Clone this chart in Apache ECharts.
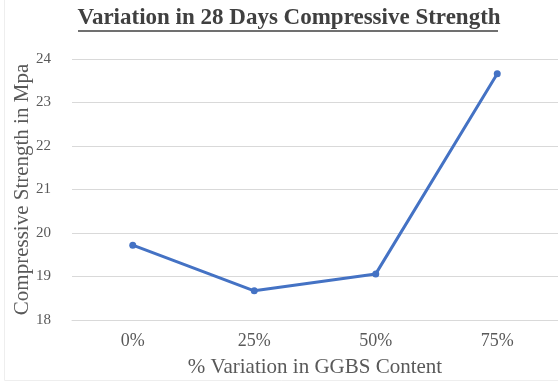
<!DOCTYPE html>
<html>
<head>
<meta charset="utf-8">
<script src="https://cdn.jsdelivr.net/npm/echarts@6/dist/echarts.min.js"></script>
<style>
  html, body { margin: 0; padding: 0; background: #fff; }
  #main { width: 558px; height: 383px; }
</style>
</head>
<body>
<div id="main"></div>
<script>
// data
var categories = ['0%', '25%', '50%', '75%'];
var strength = [19.72, 18.67, 19.06, 23.66];
var yTicks = [18, 19, 20, 21, 22, 23, 24];

var serif = '"Liberation Serif", "DejaVu Serif", serif';

var myChart = echarts.init(document.getElementById('main'));

var option = {
    backgroundColor: '#fff',
    title: {
        text: 'Variation in 28 Days Compressive Strength',
        left: 284,
        textAlign: 'center',
        top: 2,
        textStyle: {
            fontFamily: serif,
            fontSize: 23,
            fontWeight: 'bold',
            color: '#404040'
        }
    },
    graphic: [
        // underline below the title
        {
            type: 'line',
            shape: { x1: 78, y1: 31, x2: 498, y2: 31 },
            style: { stroke: '#404040', lineWidth: 1.5 }
        },
        // faint chart-area border
        {
            type: 'rect',
            shape: { x: 4.5, y: -2, width: 560, height: 382.5 },
            style: { fill: null, stroke: '#eeeeee', lineWidth: 1 },
            silent: true
        }
    ],
    grid: {
        left: 72,
        right: -4,
        top: 59,
        bottom: 63
    },
    xAxis: {
        type: 'category',
        data: categories,
        boundaryGap: true,
        name: '% Variation in GGBS Content',
        nameLocation: 'middle',
        nameGap: 37,
        nameTextStyle: { fontFamily: serif, fontSize: 21, color: '#595959' },
        axisLine: { lineStyle: { color: '#d9d9d9' } },
        axisTick: { show: false },
        axisLabel: { fontFamily: serif, fontSize: 18, color: '#595959', margin: 12 }
    },
    yAxis: {
        type: 'value',
        min: yTicks[0],
        max: yTicks[yTicks.length - 1],
        interval: 1,
        name: 'Compressive Strength in Mpa',
        nameLocation: 'middle',
        nameGap: 39,
        nameMoveOverlap: false,
        nameTextStyle: { fontFamily: serif, fontSize: 21, color: '#595959' },
        axisLine: { show: false },
        axisTick: { show: false },
        axisLabel: { fontFamily: serif, fontSize: 15, color: '#595959', margin: 21 },
        splitLine: { lineStyle: { color: '#d9d9d9', width: 1 } }
    },
    series: [{
        type: 'line',
        data: strength,
        symbol: 'circle',
        symbolSize: 7,
        lineStyle: { color: '#4472c4', width: 3 },
        itemStyle: { color: '#4472c4' },
        animation: false
    }]
};

myChart.setOption(option);
</script>
</body>
</html>
